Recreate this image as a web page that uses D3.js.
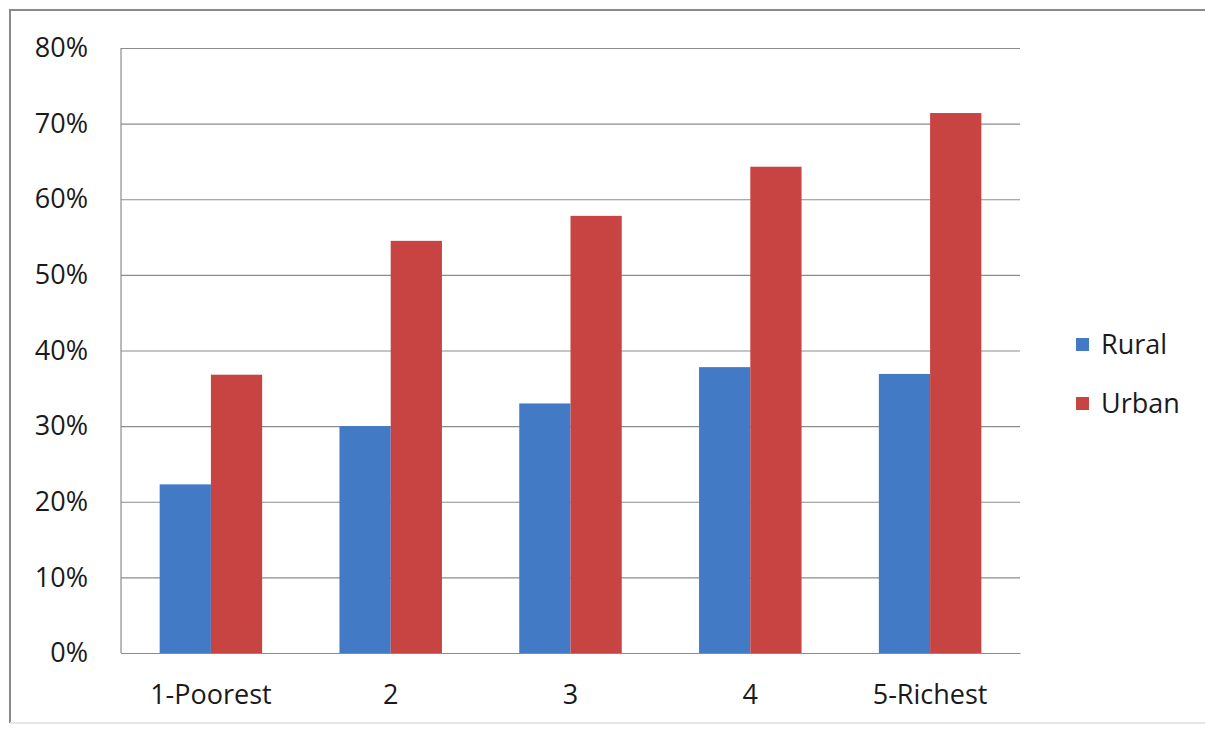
<!DOCTYPE html>
<html>
<head>
<meta charset="utf-8">
<script src="https://cdn.jsdelivr.net/npm/d3@7"></script>
<style>
  body { margin: 0; background: #fff; }
  text { font-family: "Open Sans", "Noto Sans", sans-serif; fill: #1a1a1a; }
</style>
</head>
<body>
<div id="chart"></div>
<script>
const categories = ['1-Poorest', '2', '3', '4', '5-Richest'];
const seriesNames = ['Rural', 'Urban'];
const rural = [0.223, 0.30, 0.33, 0.378, 0.369];
const urban = [0.368, 0.545, 0.578, 0.643, 0.714];
const yTicks = [0, 0.1, 0.2, 0.3, 0.4, 0.5, 0.6, 0.7, 0.8];

const width = 1205, height = 731;
const margins = {'top': 48, 'right': 185, 'bottom': 78, 'left': 121};
const colors = {'Rural': '#427ac6', 'Urban': '#c84442'};
const fontSize = 27;

const svg = d3.select('#chart')
  .append('svg')
  .attr('width', width)
  .attr('height', height);

// outer chart frame
svg.append('path')
  .attr('d', `M10,${height - 8} L10,10 L${width},10`)
  .attr('fill', 'none')
  .attr('stroke', '#8a8a8a')
  .attr('stroke-width', 2);
svg.append('line')
  .attr('x1', 10).attr('x2', width)
  .attr('y1', height - 8).attr('y2', height - 8)
  .attr('stroke', '#e6e6e6')
  .attr('stroke-width', 2);

const graphWidth = width - margins.left - margins.right;
const graphHeight = height - margins.top - margins.bottom;

const x = d3.scaleBand()
  .domain(categories)
  .range([0, graphWidth])
  .paddingInner(0.43)
  .paddingOuter(0.215);

const xs = d3.scaleBand()
  .domain(seriesNames)
  .range([0, x.bandwidth()]);

const y = d3.scaleLinear()
  .domain([0, 0.8])
  .range([graphHeight, 0]);

const g = svg.append('g')
  .attr('transform', `translate(${margins.left}, ${margins.top})`);

// gridlines + y axis labels
const yAxis = g.append('g')
  .call(d3.axisLeft(y)
    .tickValues(yTicks)
    .tickFormat(d3.format('.0%'))
    .tickSize(-graphWidth)
    .tickPadding(33));
yAxis.select('.domain').remove();
yAxis.selectAll('.tick line')
  .attr('stroke', '#8c8c8c')
  .attr('stroke-width', 1.2);
yAxis.selectAll('.tick text')
  .attr('font-size', fontSize)
  .attr('font-family', '"Open Sans", sans-serif')
  .attr('fill', '#1a1a1a');

// vertical axis line
g.append('line')
  .attr('x1', 0).attr('x2', 0)
  .attr('y1', 0).attr('y2', graphHeight)
  .attr('stroke', '#8c8c8c')
  .attr('stroke-width', 1.2);

const rows = categories.map((c, i) => ({cat: c, values: [
  {name: 'Rural', value: rural[i]},
  {name: 'Urban', value: urban[i]}
]}));

g.selectAll('.group')
  .data(rows)
  .enter()
  .append('g')
  .attr('class', 'group')
  .attr('transform', d => `translate(${x(d.cat)}, 0)`)
  .selectAll('rect')
  .data(d => d.values)
  .enter()
  .append('rect')
  .attr('x', d => xs(d.name))
  .attr('y', d => y(d.value))
  .attr('width', xs.bandwidth())
  .attr('height', d => graphHeight - y(d.value))
  .attr('fill', d => colors[d.name]);

// x axis line + labels
const xAxis = g.append('g')
  .attr('transform', `translate(0, ${graphHeight})`)
  .call(d3.axisBottom(x).tickSize(0).tickPadding(32));
xAxis.select('.domain')
  .attr('stroke', '#8c8c8c')
  .attr('stroke-width', 1.2);
xAxis.selectAll('.tick text')
  .attr('font-size', fontSize)
  .attr('font-family', '"Open Sans", sans-serif')
  .attr('fill', '#1a1a1a');

// legend
const legend = svg.append('g')
  .attr('transform', 'translate(1076, 334)');
const items = legend.selectAll('g')
  .data(seriesNames)
  .enter()
  .append('g')
  .attr('transform', (d, i) => `translate(0, ${i * 59})`);
items.append('rect')
  .attr('width', 13)
  .attr('height', 13)
  .attr('y', 4)
  .attr('fill', d => colors[d]);
items.append('text')
  .attr('x', 25)
  .attr('y', 20)
  .attr('font-size', fontSize)
  .text(d => d);
</script>
</body>
</html>
